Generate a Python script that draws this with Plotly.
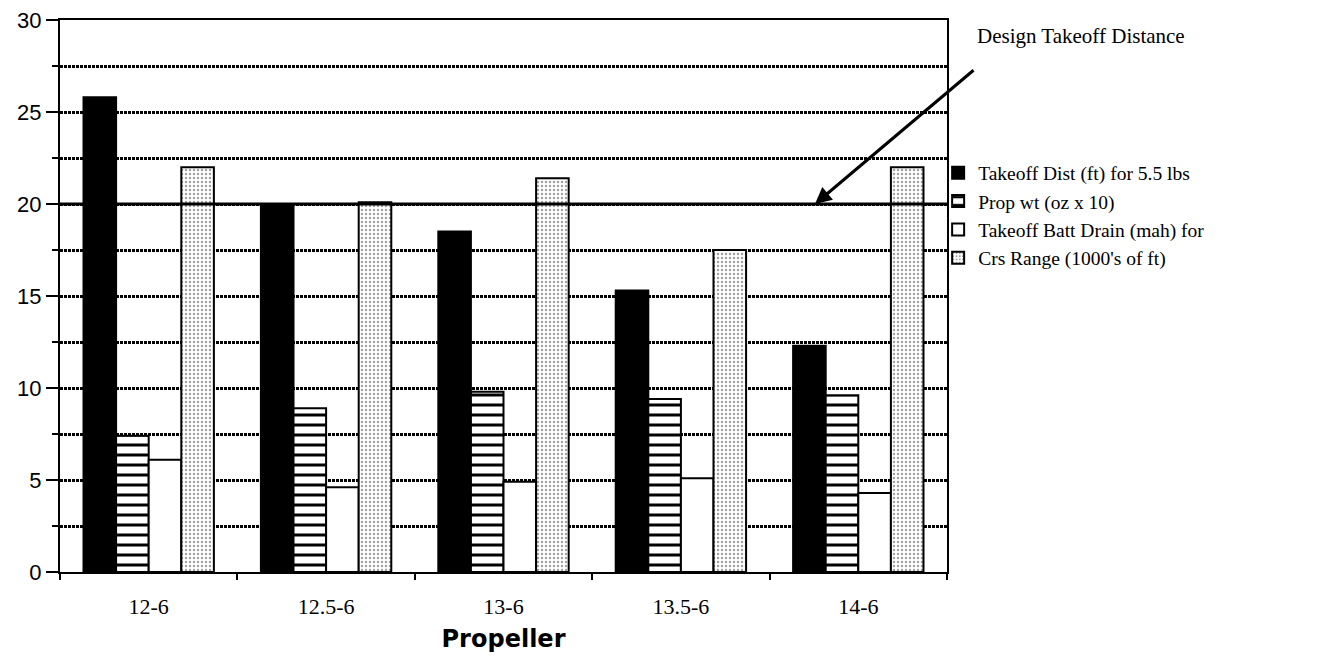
import plotly.graph_objects as go

propellers = ["12-6", "12.5-6", "13-6", "13.5-6", "14-6"]
takeoff_dist = [25.8, 20.0, 18.5, 15.3, 12.3]
prop_wt = [7.4, 8.9, 9.8, 9.4, 9.6]
batt_drain = [6.1, 4.6, 4.9, 5.1, 4.3]
crs_range = [22.0, 20.1, 21.4, 17.5, 22.0]
series_names = ["Takeoff Dist (ft) for 5.5 lbs", "Prop wt (oz x 10)",
                "Takeoff Batt Drain (mah) for", "Crs Range (1000's of ft)"]
design_takeoff = 20
arrow_x = 3.756
y_ticks = [0, 5, 10, 15, 20, 25, 30]

serif = "Liberation Serif"
line = dict(color="black", width=2)

fig = go.Figure()
fig.add_bar(x=propellers, y=takeoff_dist, name=series_names[0],
            marker=dict(color="black", line=line))
fig.add_bar(x=propellers, y=prop_wt, name=series_names[1],
            marker=dict(color="white", line=line,
                        pattern=dict(shape="-", fgcolor="black", bgcolor="white",
                                     size=10, solidity=0.3, fgopacity=1)))
fig.add_bar(x=propellers, y=batt_drain, name=series_names[2],
            marker=dict(color="white", line=line))
fig.add_bar(x=propellers, y=crs_range, name=series_names[3],
            marker=dict(color="white", line=line,
                        pattern=dict(shape=".", fgcolor="#444", bgcolor="white",
                                     size=4, solidity=0.3)))

fig.add_shape(type="line", xref="paper", x0=0, x1=1, y0=design_takeoff, y1=design_takeoff,
              line=dict(color="black", width=3), layer="above")

fig.add_annotation(x=arrow_x, y=design_takeoff, xref="x", yref="y", text="",
                   showarrow=True, arrowhead=2, arrowsize=1.1, arrowwidth=3,
                   arrowcolor="black", ax=160, ay=-135)
fig.add_annotation(x=1.0316, y=0.971, xref="paper", yref="paper", text="Design Takeoff Distance",
                   showarrow=False, font=dict(family=serif, size=21, color="black"),
                   xanchor="left", yanchor="middle")

fig.update_layout(
    width=1329, height=662,
    margin=dict(l=52, r=390, t=12, b=98, autoexpand=False),
    paper_bgcolor="white", plot_bgcolor="white",
    barmode="group", bargap=0.265, bargroupgap=0,
    font=dict(family=serif, size=16, color="black"),
    legend=dict(x=0.99, y=0.758, xanchor="left", yanchor="top",
                font=dict(family=serif, size=19.5),
                bgcolor="rgba(0,0,0,0)"),
    xaxis=dict(type="category", range=[-0.5, 4.5], showline=True, linecolor="black",
               linewidth=2, mirror=True,
               ticks="outside", tickson="boundaries", ticklen=6, tickwidth=2,
               tickcolor="black", tickfont=dict(family=serif, size=22),
               ticklabelstandoff=14,
               title=dict(text="<b>Propeller</b>", standoff=12,
                          font=dict(family="DejaVu Sans", size=24))),
    yaxis=dict(range=[0, 30], tickvals=y_ticks, showline=True, linecolor="black",
               linewidth=2, mirror=True, ticks="outside", ticklen=12, tickwidth=2,
               tickcolor="black", tickfont=dict(family="Liberation Sans", size=22),
               ticklabeloverflow="allow",
               showgrid=True, gridcolor="black", gridwidth=2.5, griddash="3px,1px",
               zeroline=False,
               minor=dict(dtick=2.5, ticks="outside", ticklen=6, tickwidth=2,
                          tickcolor="black", showgrid=True, gridcolor="black",
                          gridwidth=2.5, griddash="3px,1px")),
)

fig.write_html("out.html")
